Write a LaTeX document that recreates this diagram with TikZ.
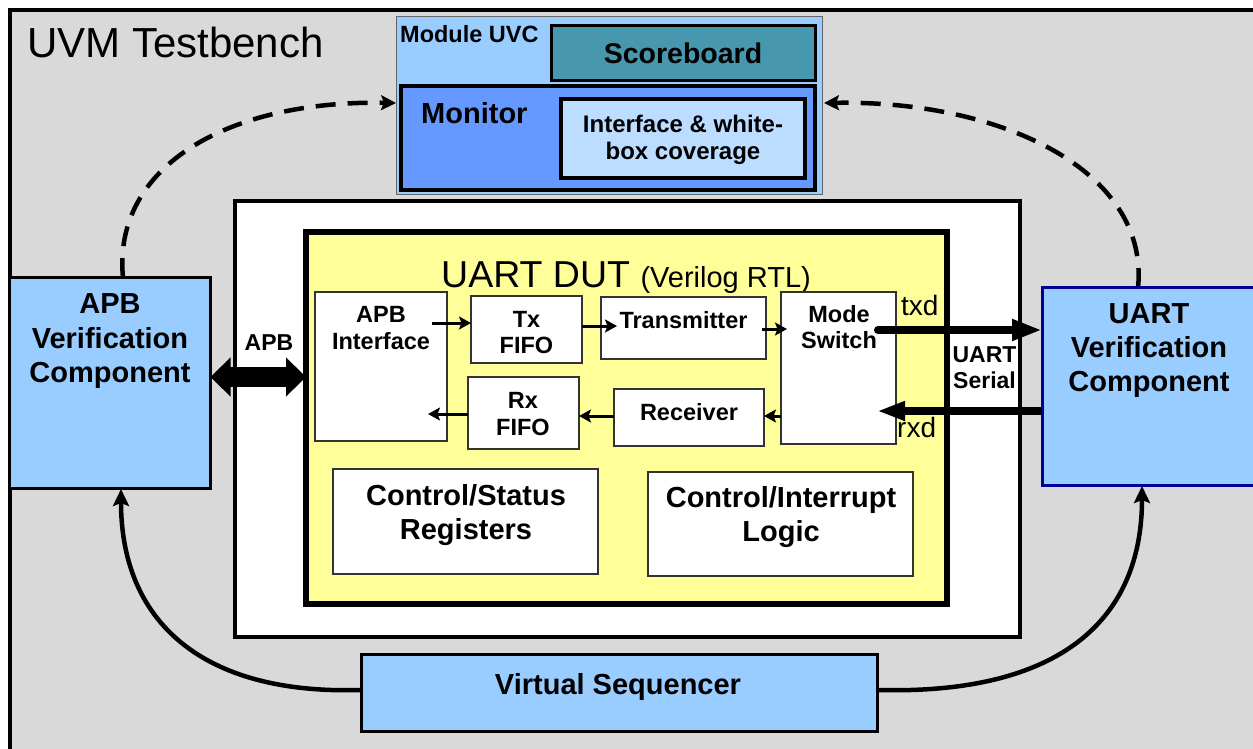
\documentclass[tikz,border=0pt]{standalone}
\usepackage{fontspec}
\setmainfont{Liberation Sans}
\usetikzlibrary{arrows.meta,calc}
\definecolor{bggray}{HTML}{D9D9D9}
\definecolor{lblue}{HTML}{99CCFF}
\definecolor{teal2}{HTML}{4797AF}
\definecolor{monblue}{HTML}{6699FF}
\definecolor{ifblue}{HTML}{BCDDFF}
\definecolor{dutyellow}{HTML}{FFFF99}
\definecolor{navy2}{HTML}{000099}
\begin{document}
\begin{tikzpicture}[x=1pt,y=-1pt,
  bx/.style={inner sep=0pt, outer sep=0pt},
  inbox/.style={bx, draw=black!80, line width=1.3pt, fill=white},
  ft/.style={inner sep=0pt, anchor=base, font=\fontsize{23.5}{28}\selectfont\bfseries},
  fT/.style={inner sep=0pt, anchor=base, font=\fontsize{29}{34}\selectfont\bfseries},
  sarrow/.style={line width=3pt, -{Stealth[length=12pt,width=13pt,inset=2.5pt]}},
  dasharc/.style={line width=4.5pt, dash pattern=on 20pt off 12pt, -{Stealth[length=15pt,width=15pt,inset=3pt]}},
  solarc/.style={line width=4.5pt, -{Stealth[length=17pt,width=16pt,inset=3pt]}},
  bigarrow/.style={line width=8pt, line cap=round, -{Triangle[length=30pt,width=20pt]}}
]
\useasboundingbox (0,0) rectangle (1253,748);
\clip (0,0) rectangle (1253,748);
\fill[white] (0,0) rectangle (1253,748);
\draw[line width=4pt, fill=bggray] (10,10) rectangle (1300,800);
\node[inner sep=0pt, anchor=base west, font=\fontsize{42}{48}\selectfont] (title) at (27,57) {UVM Testbench};

% coordinates for curve ends
\coordinate (apbtop) at (123,278);
\coordinate (uarttop) at (1138,288);
\coordinate (apbbot) at (121,489);
\coordinate (uartbot) at (1142,486);

% Module UVC
\node[bx, draw=black!60, line width=1pt, fill=lblue, minimum width=426pt, minimum height=178pt] (muvc) at (609,105) {};
\node[inner sep=0pt, anchor=base west, font=\fontsize{23.5}{28}\selectfont\bfseries] (muvct) at (400,42) {Module UVC};
\node[bx, draw=black, line width=3pt, fill=teal2, minimum width=264pt, minimum height=55pt] (sb) at (683,52.5) {};
\node[inner sep=0pt, anchor=base, font=\fontsize{28.5}{34}\selectfont\bfseries] (sbt) at (683,63) {Scoreboard};
\node[bx, draw=black, line width=4pt, fill=monblue, minimum width=414pt, minimum height=104pt] (mon) at (608,138) {};
\node[inner sep=0pt, anchor=base west, font=\fontsize{29}{34}\selectfont\bfseries] (mont) at (421,123) {Monitor};
\node[bx, draw=black, line width=4pt, fill=ifblue, minimum width=244pt, minimum height=79pt] (ifc) at (683,138.5) {};
\node[inner sep=0pt, anchor=base, font=\fontsize{24}{28}\selectfont\bfseries] (ifct1) at (683,132) {Interface \& white-};
\node[inner sep=0pt, anchor=base, font=\fontsize{24}{28}\selectfont\bfseries] (ifct2) at (683,159) {box coverage};

% curves
\draw[dasharc] (apbtop) .. controls (112,165) and (230,100) .. (396,103);
\draw[dasharc] (uarttop) .. controls (1150,170) and (1000,100) .. (824,103);
\draw[solarc] (361,690) .. controls (200,695) and (121,620) .. (apbbot);
\draw[solarc] (877,690) .. controls (1060,695) and (1142,620) .. (uartbot);

% DUT wrapper and DUT
\node[bx, draw=black, line width=3.5pt, fill=white, minimum width=785pt, minimum height=436pt] (wrap) at (627.5,419) {};
\node[bx, draw=black, line width=5.5pt, fill=dutyellow, minimum width=641pt, minimum height=372pt] (dut) at (626.5,418) {};
\node[inner sep=0pt, anchor=base west, font=\fontsize{37.5}{44}\selectfont] (dutt) at (441,287) {UART DUT {\fontsize{29}{34}\selectfont(Verilog RTL)}};

\node[inbox, minimum width=132pt, minimum height=149pt] (apbif) at (381,366.5) {};
\node[ft] at (381,322) {APB};
\node[ft] at (381,349) {Interface};
\node[inbox, minimum width=111pt, minimum height=67pt] (txf) at (526.5,329.5) {};
\node[ft] at (526.5,327) {Tx};
\node[ft] at (526.5,353) {FIFO};
\node[inbox, minimum width=165pt, minimum height=62pt] (tx) at (683.5,328) {};
\node[ft] at (683.5,328) {Transmitter};
\node[inbox, minimum width=115pt, minimum height=152pt] (ms) at (838.5,368) {};
\node[ft] at (839,322) {Mode};
\node[ft] at (839,348) {Switch};
\node[inbox, minimum width=111pt, minimum height=72pt] (rxf) at (523.5,413) {};
\node[ft] at (523,408) {Rx};
\node[ft] at (523,435) {FIFO};
\node[inbox, minimum width=150pt, minimum height=57pt] (rx) at (689,417.5) {};
\node[ft] at (689,420) {Receiver};
\node[inbox, minimum width=265pt, minimum height=105pt] (csr) at (465.5,521.5) {};
\node[fT] at (466,505) {Control/Status};
\node[fT] at (466,539) {Registers};
\node[inbox, minimum width=265pt, minimum height=104pt] (cil) at (780.5,524) {};
\node[fT] at (781,507) {Control/Interrupt};
\node[fT] at (781,541) {Logic};

% verification components
\node[bx, draw=black, line width=3pt, fill=lblue, minimum width=201pt, minimum height=211pt] (apbvc) at (110,383) {};
\node[fT] at (110,313) {APB};
\node[fT] at (110,348) {Verification};
\node[fT] at (110,382) {Component};
\node[bx, draw=navy2, line width=3pt, fill=lblue, minimum width=216pt, minimum height=198pt] (uartvc) at (1150,386) {};
\node[fT] at (1149,323) {UART};
\node[fT] at (1149,357) {Verification};
\node[fT] at (1149,391) {Component};
\node[bx, draw=black, line width=3pt, fill=lblue, minimum width=516pt, minimum height=77pt] (vseq) at (619,692.5) {};
\node[fT] at (618,694) {Virtual Sequencer};

% internal arrows
\draw[sarrow] ($(apbif.east |- 0,323)+(-15,0)$) -- (txf.west |- 0,323);
\draw[sarrow] (txf.east |- 0,326) -- ($(tx.west |- 0,326)+(16,0)$);
\draw[sarrow] ($(tx.east |- 0,329)+(-4,0)$) -- ($(ms.west |- 0,329)+(6,0)$);
\draw[sarrow] (ms.west |- 0,416) -- (rx.east |- 0,416);
\draw[sarrow] (rx.west |- 0,416) -- (rxf.east |- 0,416);
\draw[sarrow] (rxf.west |- 0,414) -- ($(apbif.east |- 0,414)+(-19,0)$);

% serial arrows
\draw[bigarrow] ($(ms.east |- 0,330)+(-18,0)$) -- (uartvc.west |- 0,330);
\draw[line width=8pt, -{Triangle[length=28pt,width=18pt]}] (uartvc.west |- 0,411) -- ($(ms.east |- 0,411)+(-19,0)$);
\node[inner sep=0pt, anchor=base west, font=\fontsize{28}{32}\selectfont] (txd) at (901,315) {txd};
\node[inner sep=0pt, anchor=base west, font=\fontsize{28}{32}\selectfont] (rxd) at (897,437) {rxd};
\node[inner sep=0pt, anchor=base, font=\fontsize{23}{28}\selectfont\bfseries] (us1) at (984.5,362) {UART};
\node[inner sep=0pt, anchor=base, font=\fontsize{23}{28}\selectfont\bfseries] (us2) at (984.5,388) {Serial};

% APB double arrow
\draw[line width=20pt, {Triangle[length=20pt,width=38pt]}-{Triangle[length=20pt,width=38pt]}] (apbvc.east |- 0,377) -- (dut.west |- 0,377);
\node[inner sep=0pt, anchor=base, font=\fontsize{23}{28}\selectfont\bfseries] (apbl) at (269,350) {APB};
\end{tikzpicture}
\end{document}
